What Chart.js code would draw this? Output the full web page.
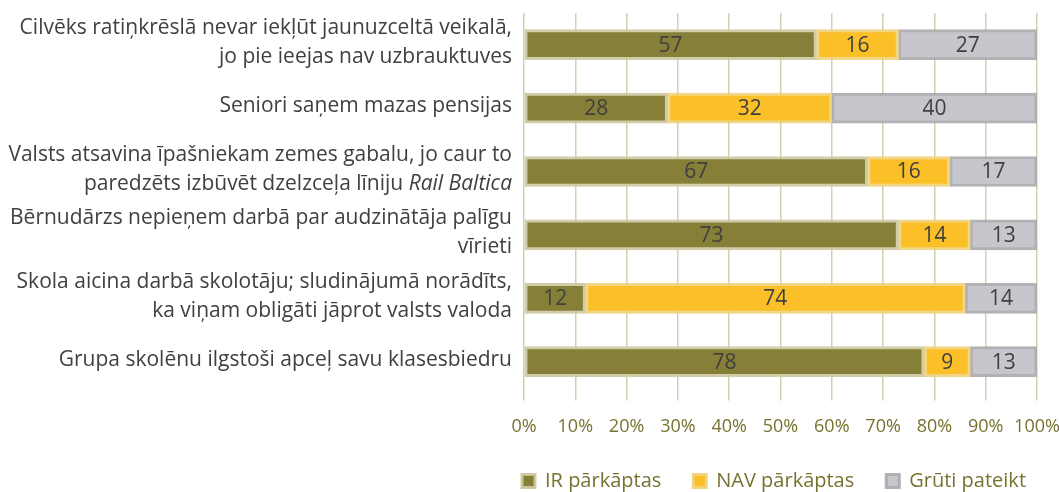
<!DOCTYPE html>
<html>
<head>
<meta charset="utf-8">
<script src="https://cdn.jsdelivr.net/npm/chart.js@4"></script>
<style>
  html, body { margin: 0; padding: 0; background: #ffffff; }
  #wrap { width: 1059px; height: 492px; position: relative; }
</style>
</head>
<body>
<div id="wrap"><canvas id="chart"></canvas></div>
<script>
// Category labels, one array entry per text line
const categories = [
  ["Cilvēks ratiņkrēslā nevar iekļūt jaunuzceltā veikalā,", "jo pie ieejas nav uzbrauktuves"],
  ["Seniori saņem mazas pensijas"],
  ["Valsts atsavina īpašniekam zemes gabalu, jo caur to", "paredzēts izbūvēt dzelzceļa līniju Rail Baltica"],
  ["Bērnudārzs nepieņem darbā par audzinātāja palīgu", "vīrieti"],
  ["Skola aicina darbā skolotāju; sludinājumā norādīts,", "ka viņam obligāti jāprot valsts valoda"],
  ["Grupa skolēnu ilgstoši apceļ savu klasesbiedru"]
];
const italicPhrase = "Rail Baltica";

const seriesNames = ["IR pārkāptas", "NAV pārkāptas", "Grūti pateikt"];
const irValues    = [57, 28, 67, 73, 12, 78];
const navValues   = [16, 32, 16, 14, 74, 9];
const grutiValues = [27, 40, 17, 13, 14, 13];
const xTicks      = [0, 10, 20, 30, 40, 50, 60, 70, 80, 90, 100];

const FONT = "'Open Sans', sans-serif";
const TEXT_DARK = "#404040";
const OLIVE_TEXT = "#77722f";
const LEGEND_PAD = 32;
const LEGEND_LIFT = 15;

// Draws the multi-line category labels to the left of the plot,
// with the "Rail Baltica" phrase in italics
const categoryLabelPlugin = {
  id: "categoryLabels",
  afterDraw: function (chart) {
    const ctx = chart.ctx;
    const yScale = chart.scales.y;
    const right = chart.chartArea.left - 12;
    const lineH = 29;
    ctx.save();
    ctx.fillStyle = TEXT_DARK;
    ctx.textBaseline = "middle";
    ctx.textAlign = "right";
    categories.forEach(function (lines, i) {
      const cy = yScale.getPixelForValue(i) - 2;
      const top = cy - (lines.length - 1) * lineH / 2;
      lines.forEach(function (line, j) {
        const y = top + j * lineH;
        if (line.endsWith(italicPhrase)) {
          const head = line.slice(0, line.length - italicPhrase.length);
          ctx.font = "italic 21px " + FONT;
          const w = ctx.measureText(italicPhrase).width;
          ctx.fillText(italicPhrase, right, y);
          ctx.font = "21px " + FONT;
          ctx.fillText(head, right - w, y);
        } else {
          ctx.font = "21px " + FONT;
          ctx.fillText(line, right, y);
        }
      });
    });
    ctx.restore();
  }
};

// Writes each segment's value in the middle of its bar
const valueLabelPlugin = {
  id: "valueLabels",
  afterDatasetsDraw: function (chart) {
    const ctx = chart.ctx;
    ctx.save();
    ctx.font = "21px " + FONT;
    ctx.fillStyle = TEXT_DARK;
    ctx.textAlign = "center";
    ctx.textBaseline = "middle";
    chart.data.datasets.forEach(function (ds, di) {
      chart.getDatasetMeta(di).data.forEach(function (bar, i) {
        const p = bar.getCenterPoint();
        ctx.fillText(String(ds.data[i]), p.x, p.y + 1);
      });
    });
    ctx.restore();
  }
};

// Keeps the legend on one row, compact, and slightly to the left
const legendShiftPlugin = {
  id: "legendShift",
  beforeInit: function (chart) {
    const origFit = chart.legend.fit;
    chart.legend.fit = function () {
      const mw = this.maxWidth;
      this.maxWidth = Math.max(mw, 700);
      origFit.bind(chart.legend)();
      this.maxWidth = mw;
      this.width = Math.min(this.width, mw);
      this.height -= 9 + LEGEND_LIFT;
    };
  },
  afterLayout: function (chart) {
    chart.legend.left = chart.chartArea.left - 2 - LEGEND_PAD;
    chart.legend.right = chart.legend.left + 700;
    chart.legend.top -= LEGEND_LIFT;
  }
};

new Chart(document.getElementById("chart"), {
  type: "bar",
  data: {
    labels: categories.map(function (l) { return l.join(" "); }),
    datasets: [
      { label: seriesNames[0], data: irValues,    backgroundColor: "#857f38", borderColor: "rgba(205,200,160,0.9)" },
      { label: seriesNames[1], data: navValues,   backgroundColor: "#fbbf27", borderColor: "rgba(240,210,120,0.9)" },
      { label: seriesNames[2], data: grutiValues, backgroundColor: "#c6c7cc", borderColor: "rgba(170,170,172,0.9)" }
    ].map(function (d) {
      d.borderWidth = 3;
      d.borderSkipped = false;
      d.barThickness = 30;
      return d;
    })
  },
  options: {
    indexAxis: "y",
    responsive: true,
    maintainAspectRatio: false,
    animation: false,
    layout: { padding: { top: 13, right: 0, bottom: 0, left: 0 } },
    scales: {
      x: {
        stacked: true,
        min: 0,
        max: 100,
        afterBuildTicks: function (scale) {
          scale.ticks = xTicks.map(function (v) { return { value: v }; });
        },
        // keep the 100% gridline close to the right edge
        afterFit: function (scale) { scale.paddingRight = 22; },
        border: { display: false },
        grid: { color: "#d3d0b0", lineWidth: 1.5, tickLength: 7 },
        ticks: {
          color: OLIVE_TEXT,
          font: { family: FONT, size: 18 },
          padding: 16,
          maxRotation: 0,
          callback: function (v) { return v + "%"; }
        }
      },
      y: {
        stacked: true,
        grid: { display: false },
        border: { display: false },
        ticks: { display: false },
        afterFit: function (scale) { scale.width = 524; }
      }
    },
    plugins: {
      tooltip: { enabled: false },
      legend: {
        position: "bottom",
        align: "start",
        fullSize: false,
        labels: {
          color: OLIVE_TEXT,
          font: { family: FONT, size: 20 },
          boxWidth: 13,
          boxHeight: 13,
          padding: LEGEND_PAD
        }
      }
    }
  },
  plugins: [categoryLabelPlugin, valueLabelPlugin, legendShiftPlugin]
});
</script>
</body>
</html>
